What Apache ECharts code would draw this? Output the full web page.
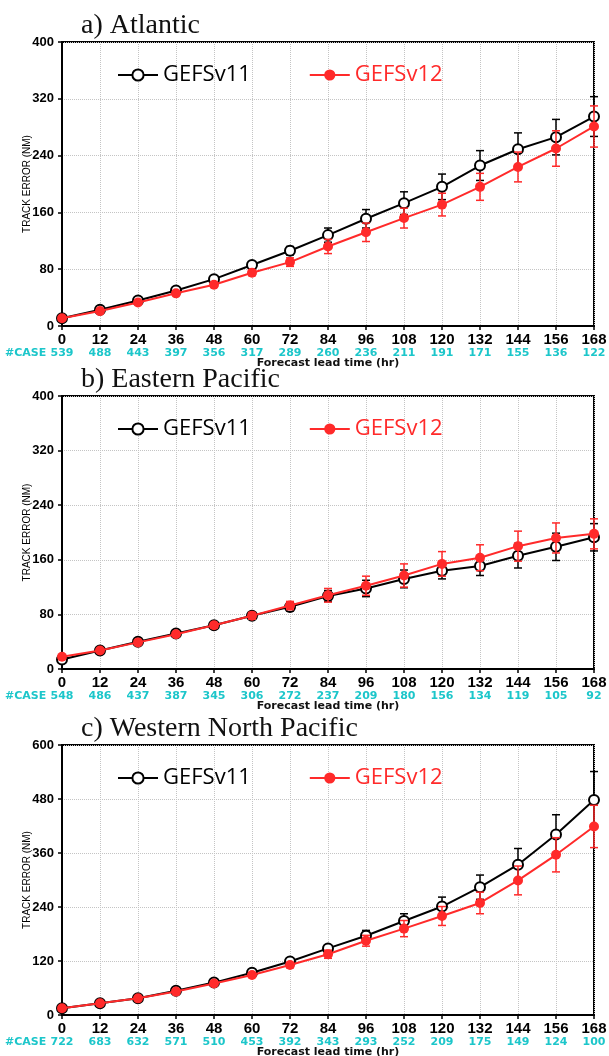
<!DOCTYPE html>
<html>
<head>
<meta charset="utf-8">
<script src="https://cdn.jsdelivr.net/npm/echarts@6/dist/echarts.min.js"></script>
<style>
html, body { margin: 0; padding: 0; background: #fff; }
#chart { width: 609px; height: 1056px; }
</style>
</head>
<body>
<div id="chart"></div>
<script>
// forecast lead times (hr)
const hours = [0, 12, 24, 36, 48, 60, 72, 84, 96, 108, 120, 132, 144, 156, 168];

// a) Atlantic
const atlV11 = [11, 23, 36, 50, 66, 86, 106, 128, 151, 173, 196, 226, 249, 266, 295];
const atlV12 = [11, 21, 33, 46, 58, 75, 90, 112, 132, 152, 171, 196, 224, 250, 281];
const atlErr11 = [1, 2, 2, 3, 3, 4, 6, 10, 13, 16, 18, 21, 23, 25, 28];
const atlErr12 = [1, 2, 2, 3, 3, 4, 6, 10, 13, 14, 16, 19, 21, 25, 29];
const atlCases = [539, 488, 443, 397, 356, 317, 289, 260, 236, 211, 191, 171, 155, 136, 122];

// b) Eastern Pacific
const epV11 = [14, 27, 40, 52, 64, 78, 91, 107, 118, 132, 144, 151, 166, 179, 193];
const epV12 = [18, 27, 39, 51, 64, 78, 93, 108, 122, 137, 154, 163, 180, 192, 198];
const epErr11 = [1, 2, 2, 3, 4, 5, 6, 8, 12, 13, 12, 14, 18, 20, 20];
const epErr12 = [1, 2, 2, 3, 4, 5, 6, 10, 14, 17, 18, 19, 22, 22, 22];
const epCases = [548, 486, 437, 387, 345, 306, 272, 237, 209, 180, 156, 134, 119, 105, 92];

// c) Western North Pacific
const wpV11 = [15, 26, 37, 54, 72, 94, 119, 148, 176, 209, 241, 284, 334, 401, 478];
const wpV12 = [15, 26, 37, 52, 70, 89, 111, 135, 165, 192, 220, 249, 299, 356, 419];
const wpErr11 = [1, 2, 2, 3, 4, 5, 6, 8, 12, 16, 21, 27, 36, 44, 63];
const wpErr12 = [1, 2, 2, 3, 4, 5, 6, 9, 12, 18, 21, 24, 32, 38, 47];
const wpCases = [722, 683, 632, 571, 510, 453, 392, 343, 293, 252, 209, 175, 149, 124, 100];

const BLACK = '#000';
const RED = '#ff2a2a';
const CYAN = '#1cc6ca';

const panels = [
  { title: 'a) Atlantic', top: 42, height: 284, ymax: 400, yint: 80,
    v11: atlV11, v12: atlV12, e11: atlErr11, e12: atlErr12, cases: atlCases },
  { title: 'b) Eastern Pacific', top: 396, height: 273, ymax: 400, yint: 80,
    v11: epV11, v12: epV12, e11: epErr11, e12: epErr12, cases: epCases },
  { title: 'c) Western North Pacific', top: 745, height: 270, ymax: 600, yint: 120,
    v11: wpV11, v12: wpV12, e11: wpErr11, e12: wpErr12, cases: wpCases }
];

function errorBar(color) {
  return function (params, api) {
    const x = api.value(0);
    const lo = api.coord([x, api.value(1)]);
    const hi = api.coord([x, api.value(2)]);
    const w = 4;
    const st = { stroke: color, lineWidth: 1.5 };
    return {
      type: 'group',
      children: [
        { type: 'line', shape: { x1: lo[0], y1: lo[1], x2: hi[0], y2: hi[1] }, style: st },
        { type: 'line', shape: { x1: lo[0] - w, y1: lo[1], x2: lo[0] + w, y2: lo[1] }, style: st },
        { type: 'line', shape: { x1: hi[0] - w, y1: hi[1], x2: hi[0] + w, y2: hi[1] }, style: st }
      ]
    };
  };
}

const grid = [], xAxis = [], yAxis = [], series = [], title = [], legend = [], graphic = [];

panels.forEach((p, i) => {
  grid.push({
    left: 62, right: 15, top: p.top, height: p.height,
    show: true, borderColor: '#000', borderWidth: 2,
    outerBoundsMode: 'none'
  });
  title.push({
    text: p.title, left: 76, top: p.top - 35,
    textStyle: { fontFamily: 'Liberation Serif', fontWeight: 'normal', fontSize: 28, color: '#111' }
  });
  legend.push({
    top: p.top + 17, left: 112,
    itemWidth: 40, itemHeight: 14, itemGap: 58,
    selectedMode: false,
    textStyle: { fontFamily: 'Open Sans', fontSize: 22 },
    data: [
      { name: 'GEFSv11', textStyle: { color: BLACK } },
      { name: 'GEFSv12', textStyle: { color: RED } }
    ]
  });
  const cases = p.cases;
  xAxis.push({
    type: 'value', gridIndex: i, min: 0, max: 168, interval: 12,
    axisLine: { show: true, lineStyle: { color: '#000', width: 2 } },
    axisTick: { show: true, length: 4, lineStyle: { color: '#000', width: 1.5 } },
    splitLine: { show: true, lineStyle: { type: 'dotted', color: '#c4c4c4' } },
    axisLabel: {
      margin: 7,
      formatter: v => `{t|${v}}\n{c|${cases[Math.round(v / 12)]}}`,
      rich: {
        t: { fontFamily: 'Liberation Sans', fontWeight: 'bold', fontSize: 15, color: '#000', lineHeight: 14 },
        c: { fontFamily: 'DejaVu Sans', fontWeight: 'bold', fontSize: 11, color: CYAN, lineHeight: 12 }
      }
    },
    name: 'Forecast lead time (hr)', nameLocation: 'middle', nameGap: 32, nameMoveOverlap: false,
    nameTextStyle: { fontFamily: 'DejaVu Sans', fontWeight: 'bold', fontSize: 11, color: '#111' }
  });
  yAxis.push({
    type: 'value', gridIndex: i, min: 0, max: p.ymax, interval: p.yint,
    axisLine: { show: true, lineStyle: { color: '#000', width: 2 } },
    axisTick: { show: true, length: 4, lineStyle: { color: '#000', width: 1.5 } },
    splitLine: { show: true, lineStyle: { type: 'dotted', color: '#c4c4c4' } },
    axisLabel: { margin: 8, fontFamily: 'Liberation Sans', fontWeight: 'bold', fontSize: 13, color: '#000' },
    name: 'TRACK ERROR (NM)', nameLocation: 'middle', nameGap: 30, nameMoveOverlap: false,
    nameTextStyle: { fontFamily: 'Liberation Sans', fontSize: 10, color: '#000' }
  });
  graphic.push({
    type: 'text', left: 5, top: p.top + p.height + 22,
    style: { text: '#CASE', font: 'bold 11px "DejaVu Sans"', fill: CYAN }
  });

  series.push({
    type: 'custom', xAxisIndex: i, yAxisIndex: i, z: 2,
    renderItem: errorBar(BLACK), encode: { x: 0, y: [1, 2] },
    data: hours.map((h, k) => [h, p.v11[k] - p.e11[k], p.v11[k] + p.e11[k]])
  });
  series.push({
    type: 'line', name: 'GEFSv11', xAxisIndex: i, yAxisIndex: i, z: 3,
    symbol: 'emptyCircle', symbolSize: 10,
    lineStyle: { color: BLACK, width: 2 },
    itemStyle: { color: BLACK, borderWidth: 2 },
    data: hours.map((h, k) => [h, p.v11[k]])
  });
  series.push({
    type: 'custom', xAxisIndex: i, yAxisIndex: i, z: 4,
    renderItem: errorBar(RED), encode: { x: 0, y: [1, 2] },
    data: hours.map((h, k) => [h, p.v12[k] - p.e12[k], p.v12[k] + p.e12[k]])
  });
  series.push({
    type: 'line', name: 'GEFSv12', xAxisIndex: i, yAxisIndex: i, z: 5,
    symbol: 'circle', symbolSize: 10,
    lineStyle: { color: RED, width: 2 },
    itemStyle: { color: RED },
    data: hours.map((h, k) => [h, p.v12[k]])
  });
});

const chart = echarts.init(document.getElementById('chart'));
chart.setOption({
  backgroundColor: '#fff',
  animation: false,
  title, legend, grid, xAxis, yAxis, series, graphic
});
</script>
</body>
</html>
